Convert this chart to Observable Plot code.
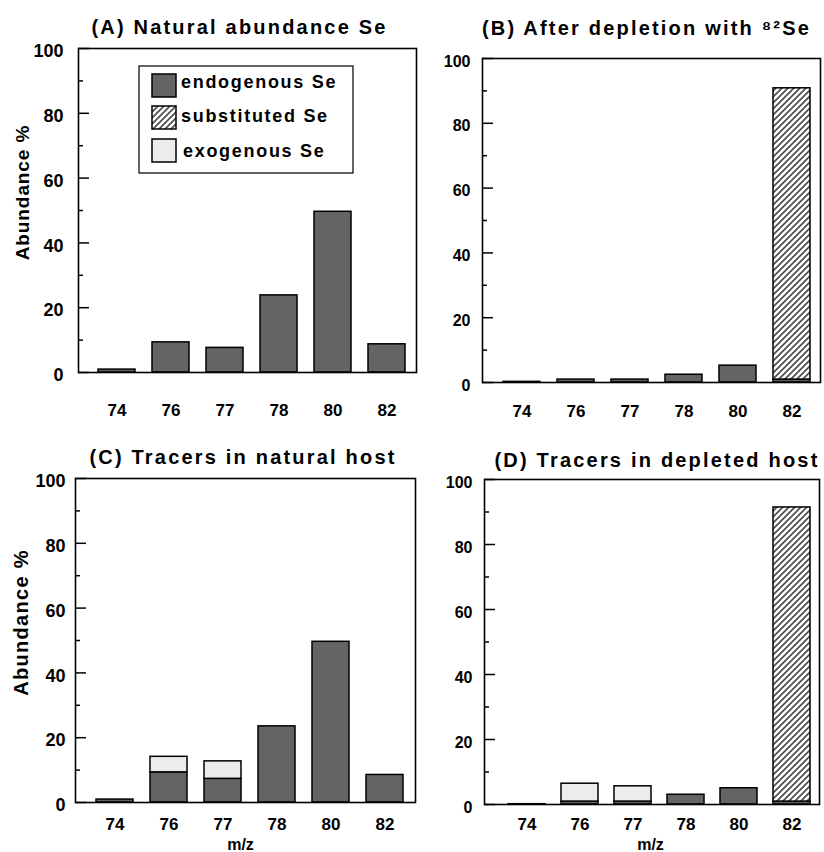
<!DOCTYPE html>
<html>
<head>
<meta charset="utf-8">
<script src="https://cdn.jsdelivr.net/npm/d3@7"></script>
<script src="https://cdn.jsdelivr.net/npm/@observablehq/plot@0.6"></script>
<style>
  body { margin: 0; background: #fff; font-family: "Liberation Sans", Arial, sans-serif; }
  #page { position: relative; width: 824px; height: 852px; overflow: hidden; background: #fff; }
</style>
</head>
<body>
<svg width="0" height="0" style="position:absolute">
  <defs>
    <pattern id="hatch" patternUnits="userSpaceOnUse" width="6" height="6">
      <rect width="6" height="6" fill="#ffffff"/>
      <path d="M-1,1 L1,-1 M0,6 L6,0 M5,7 L7,5" stroke="#4a4a4a" stroke-width="1.6"/>
    </pattern>
  </defs>
</svg>
<div id="page"></div>
<script>
// ---------- data ----------
const massNumbers = ["74", "76", "77", "78", "80", "82"];
const components = ["endogenous Se", "substituted Se", "exogenous Se"];
const componentFills = ["#646464", "url(#hatch)", "#ececec"];

// (A) natural abundance
const aEndogenous = [0.9, 9.3, 7.6, 23.8, 49.6, 8.7];
// (B) after depletion with 82Se
const bEndogenous = [0.2, 0.9, 0.9, 2.4, 5.2, 0.9];
const bSubstituted = [0, 0, 0, 0, 0, 89.9];
// (C) tracers in natural host
const cEndogenous = [0.9, 9.3, 7.3, 23.5, 49.6, 8.5];
const cExogenous = [0, 4.8, 5.4, 0, 0, 0];
// (D) tracers in depleted host
const dEndogenous = [0.1, 0.9, 0.9, 3.0, 5.0, 0.9];
const dSubstituted = [0, 0, 0, 0, 0, 90.5];
const dExogenous = [0, 5.5, 4.7, 0, 0, 0];

const yMajorTicks = [0, 20, 40, 60, 80, 100];
const yMinorTicks = [10, 30, 50, 70, 90];
const titles = [
  "(A) Natural abundance Se",
  "(B) After depletion with \u2078\u00b2Se",
  "(C) Tracers in natural host",
  "(D) Tracers in depleted host"
];
const yLabel = "Abundance %";
const xLabel = "m/z";

// ---------- helpers ----------
function buildRows(endo, subst, exo) {
  const rows = [];
  massNumbers.forEach((mz, i) => {
    const vals = [endo ? endo[i] : 0, subst ? subst[i] : 0, exo ? exo[i] : 0];
    vals.forEach((v, k) => { if (v > 0) rows.push({ mz, component: components[k], value: v }); });
  });
  return rows;
}

const page = document.getElementById("page");

function panel(cfg) {
  const W = cfg.width - cfg.m[0] - cfg.m[1];
  const marks = [
    Plot.barY(cfg.rows, Plot.stackY({
      x: "mz", y: "value", fill: "component", z: "component",
      stroke: "black", strokeWidth: 1.5
    })),
    Plot.tickY(yMajorTicks, { y: d => d, insetRight: W - 11, stroke: "black", strokeWidth: 1.5 }),
    Plot.tickY(yMinorTicks, { y: d => d, insetRight: W - 5, stroke: "black", strokeWidth: 1.5 }),
    Plot.frame({ stroke: "black", strokeWidth: 1.6 }),
    Plot.axisY({
      ticks: yMajorTicks, tickSize: 0, tickPadding: cfg.yPad, label: null,
      fontSize: cfg.yFont, fontWeight: "bold", dy: 3
    }),
    Plot.axisX({
      tickSize: 0, tickPadding: cfg.xPad, label: null,
      fontSize: 17, fontWeight: "bold"
    }),
    Plot.text([cfg.title], {
      text: d => d, frameAnchor: "top", dx: cfg.titleDx, dy: cfg.titleDy,
      lineAnchor: "middle", fontSize: 20, fontWeight: "bold"
    })
  ];
  if (cfg.yLab) {
    marks.push(Plot.text([yLabel], {
      text: d => d, frameAnchor: "left", rotate: -90, dx: cfg.yLab.dx, dy: cfg.yLab.dy,
      textAnchor: "middle", lineAnchor: "middle", fontSize: cfg.yLab.size, fontWeight: "bold"
    }));
  }
  if (cfg.xLab) {
    marks.push(Plot.text([xLabel], {
      text: d => d, frameAnchor: "bottom", dx: cfg.xLab.dx, dy: cfg.xLab.dy,
      lineAnchor: "middle", fontSize: 16, fontWeight: "bold"
    }));
  }
  const svg = Plot.plot({
    width: cfg.width,
    height: cfg.height,
    marginLeft: cfg.m[0], marginRight: cfg.m[1], marginTop: cfg.m[2], marginBottom: cfg.m[3],
    style: {
      position: "absolute", left: cfg.left + "px", top: cfg.top + "px",
      background: "transparent", overflow: "visible",
      fontFamily: "'Liberation Sans', Arial, sans-serif", color: "black"
    },
    x: { type: "band", domain: massNumbers, range: cfg.xRange, paddingInner: 0.31, paddingOuter: 0, align: 0.5 },
    y: { domain: [0, 100] },
    color: { domain: components, range: componentFills },
    marks
  });
  const s = d3.select(svg);
  s.selectAll("text").filter(function () { return this.textContent === cfg.title; })
    .style("letter-spacing", "2.2px");
  if (cfg.yLab) {
    s.selectAll("text").filter(function () { return this.textContent === yLabel; })
      .style("letter-spacing", cfg.yLab.ls + "px");
  }
  page.appendChild(svg);
  return svg;
}

// ---------- panels ----------
const svgA = panel({
  rows: buildRows(aEndogenous, null, null), title: titles[0],
  left: 0, top: 0, width: 420, height: 426, m: [78, 4, 48, 54],
  xRange: [97.5, 406.5], yFont: 18, yPad: 15, xPad: 31, titleDx: -8, titleDy: -21,
  yLab: { dx: -56, dy: -18, size: 19, ls: 0.9 }
});
panel({
  rows: buildRows(bEndogenous, bSubstituted, null), title: titles[1],
  left: 420, top: 0, width: 404, height: 426, m: [62, 4, 58, 44],
  xRange: [80.25, 392.25], yFont: 16, yPad: 12, xPad: 22, titleDx: -5, titleDy: -30
});
panel({
  rows: buildRows(cEndogenous, null, cExogenous), title: titles[2],
  left: 0, top: 426, width: 420, height: 426, m: [75, 5, 52, 50],
  xRange: [95, 404], yFont: 18, yPad: 10, xPad: 15, titleDx: -2.5, titleDy: -21,
  yLab: { dx: -54, dy: -18, size: 20, ls: 1.3 },
  xLab: { dx: -5, dy: 42 }
});
panel({
  rows: buildRows(dEndogenous, dSubstituted, dExogenous), title: titles[3],
  left: 420, top: 426, width: 404, height: 426, m: [64, 5, 53, 48],
  xRange: [86, 392.5], yFont: 16, yPad: 12, xPad: 13, titleDx: 5, titleDy: -19,
  xLab: { dx: -1.5, dy: 40 }
});

// ---------- legend in panel A ----------
const lg = d3.select(svgA).append("g").attr("class", "legend");
lg.append("rect").attr("x", 139).attr("y", 66).attr("width", 214).attr("height", 107)
  .attr("fill", "white").attr("stroke", "black").attr("stroke-width", 1.2);
const swatchY = [74, 106, 139];
const labelX = [181, 181, 183];
const labelBase = [87.5, 121.5, 157];
components.forEach((name, i) => {
  lg.append("rect").attr("x", 152).attr("y", swatchY[i]).attr("width", 24).attr("height", 23)
    .attr("fill", componentFills[i]).attr("stroke", "black").attr("stroke-width", 1.5);
  lg.append("text").attr("x", labelX[i]).attr("y", labelBase[i])
    .attr("text-anchor", "start")
    .attr("font-size", 18).attr("font-weight", "bold")
    .attr("font-family", "'Liberation Sans', Arial, sans-serif")
    .style("letter-spacing", "1.7px").text(name);
});
</script>
</body>
</html>
